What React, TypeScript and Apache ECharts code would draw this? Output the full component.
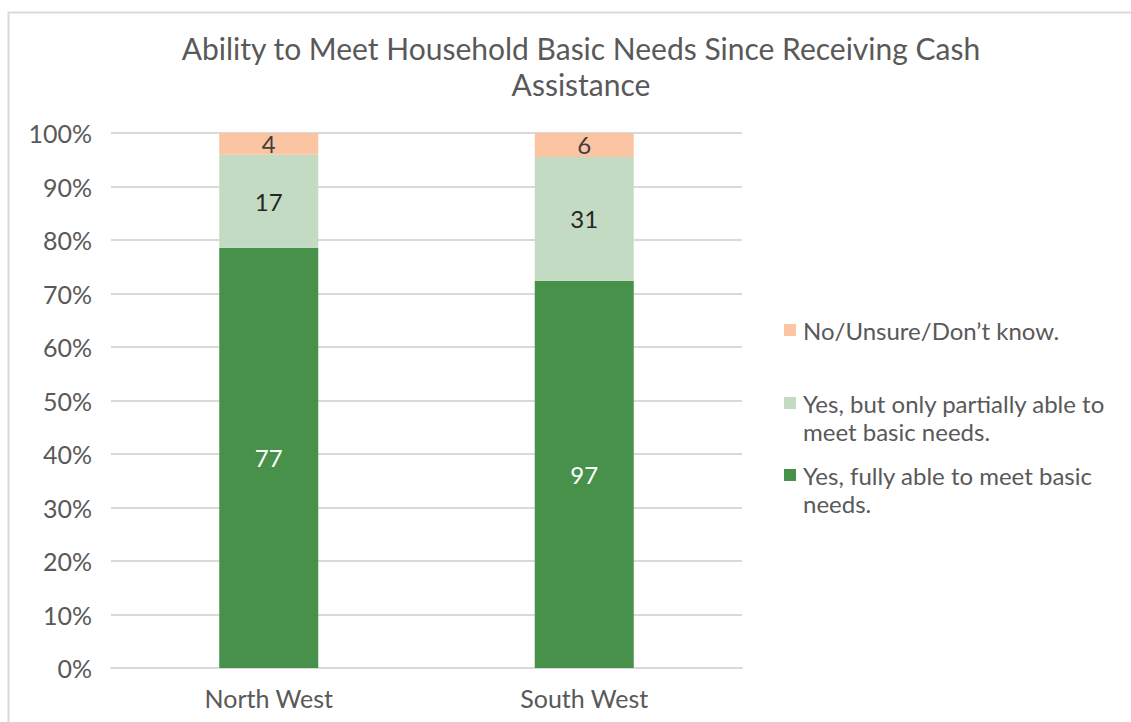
import React, { useEffect, useRef } from "react";
import * as echarts from "echarts";

const categories = ["North West", "South West"];
const seriesNames = [
  "Yes, fully able to meet basic needs.",
  "Yes, but only partially able to meet basic needs.",
  "No/Unsure/Don\u2019t know.",
];
const fullyAble = [77, 97];
const partiallyAble = [17, 31];
const noUnsure = [4, 6];
const yTicks = [0, 10, 20, 30, 40, 50, 60, 70, 80, 90, 100];
const colors = ["#48914B", "#C4DBC3", "#FBC5A3"];
const labelColors = ["#FFFFFF", "#262626", "#404040"];
const legendLines = [
  ["No/Unsure/Don\u2019t know."],
  ["Yes, but only partially able to", "meet basic needs."],
  ["Yes, fully able to meet basic", "needs."],
];
const legendColorIdx = [2, 1, 0];

export default function App() {
  const ref = useRef<HTMLDivElement>(null);
  useEffect(() => {
    document.body.style.margin = "0";
    if (!ref.current) return;
    const chart = echarts.init(ref.current, undefined, { renderer: "svg" });
    const raw = [fullyAble, partiallyAble, noUnsure];
    const totals = categories.map((_, i) => raw.reduce((s, a) => s + a[i], 0));
    const font = "Lato, 'Open Sans', sans-serif";
    const series = raw.map((arr, si) => ({
      name: seriesNames[si],
      type: "bar",
      stack: "total",
      barWidth: 99,
      itemStyle: { color: colors[si] },
      label: {
        show: true,
        position: "inside",
        color: labelColors[si],
        fontFamily: font,
        fontSize: 24,
        formatter: (p: any) => String(arr[p.dataIndex]),
      },
      data: arr.map((v, i) => (v / totals[i]) * 100),
    }));

    const legendGraphics: any[] = [];
    const tops = [316, 389, 461];
    legendLines.forEach((lines, k) => {
      legendGraphics.push({
        type: "rect",
        shape: { x: 784, y: tops[k] + 8, width: 12, height: 12 },
        style: { fill: colors[legendColorIdx[k]] },
      });
      legendGraphics.push({
        type: "text",
        x: 803,
        y: tops[k],
        style: {
          text: lines.join("\n"),
          font: `24px ${font}`,
          fill: "#595959",
          lineHeight: 28,
          verticalAlign: "top",
          align: "left",
        },
      });
    });

    chart.setOption({
      animation: false,
      title: {
        text: "Ability to Meet Household Basic Needs Since Receiving Cash\nAssistance",
        left: 576,
        top: 25,
        textAlign: "center",
        textStyle: {
          fontFamily: font,
          fontSize: 30,
          fontWeight: "normal",
          color: "#595959",
          lineHeight: 36,
        },
      },
      grid: { left: 111, right: 389, top: 133, bottom: 54, containLabel: false },
      xAxis: {
        type: "category",
        data: categories,
        axisLine: { lineStyle: { color: "#D9D9D9", width: 2 } },
        axisTick: { show: false },
        axisLabel: { color: "#595959", fontFamily: font, fontSize: 25, margin: 17 },
      },
      yAxis: {
        type: "value",
        min: yTicks[0],
        max: yTicks[yTicks.length - 1],
        interval: yTicks[1] - yTicks[0],
        axisLine: { show: false },
        axisTick: { show: false },
        splitLine: { lineStyle: { color: "#D9D9D9", width: 2 } },
        axisLabel: {
          color: "#595959",
          fontFamily: font,
          fontSize: 25,
          margin: 19,
          formatter: "{value}%",
        },
      },
      series,
      graphic: [
        {
          type: "rect",
          shape: { x: 8.5, y: 12.5, width: 1300, height: 900 },
          style: { fill: "none", stroke: "#D9D9D9", lineWidth: 2 },
          silent: true,
        },
        ...legendGraphics,
      ],
    });
    return () => chart.dispose();
  }, []);
  return <div ref={ref} style={{ width: 1131, height: 722, background: "#fff" }} />;
}
